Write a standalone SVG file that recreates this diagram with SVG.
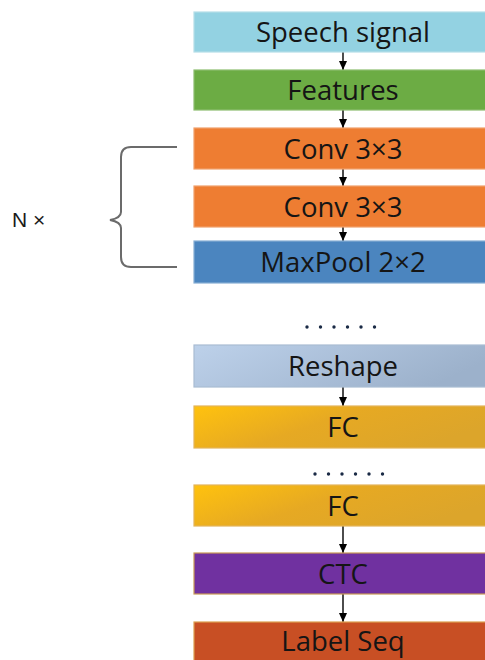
<svg xmlns="http://www.w3.org/2000/svg" width="485" height="660" viewBox="0 0 485 660">
<defs>
<linearGradient id="gReshape" x1="0" y1="0" x2="1" y2="0.3">
<stop offset="0" stop-color="#BDD1EA"/>
<stop offset="1" stop-color="#9CB1CB"/>
</linearGradient>
<linearGradient id="gFC" x1="0" y1="0" x2="1" y2="0.4">
<stop offset="0" stop-color="#FFC20E"/>
<stop offset="0.5" stop-color="#E6A923"/>
<stop offset="1" stop-color="#DCA52B"/>
</linearGradient>
<marker id="ah" markerWidth="9" markerHeight="8" refX="9" refY="4" orient="auto" markerUnits="userSpaceOnUse" viewBox="0 0 9 8">
<path d="M0,0 L9,4 L0,8 Z" fill="#000"/>
</marker>
</defs>
<style>
.box{stroke-width:1.2}
.lbl{font-family:"Open Sans","Liberation Sans",sans-serif;font-size:27.5px;fill:#151515;text-anchor:middle}
.con{stroke:#000;stroke-width:1.4;fill:none}
.dot{fill:#1a2a45}
</style>
<rect width="485" height="660" fill="#fff"/>
<g id="connectors">
<line class="con" x1="343" y1="52" x2="343" y2="70" marker-end="url(#ah)"/>
<line class="con" x1="343" y1="110" x2="343" y2="128" marker-end="url(#ah)"/>
<line class="con" x1="343" y1="169" x2="343" y2="186" marker-end="url(#ah)"/>
<line class="con" x1="343" y1="227" x2="343" y2="241" marker-end="url(#ah)"/>
<line class="con" x1="343" y1="387" x2="343" y2="406" marker-end="url(#ah)"/>
<line class="con" x1="343" y1="526" x2="343" y2="553" marker-end="url(#ah)"/>
<line class="con" x1="343" y1="594" x2="343" y2="622" marker-end="url(#ah)"/>
</g>
<g id="speech">
<rect class="box" x="194" y="12" width="300" height="40" fill="#93D2E2" stroke="#B5DEE8"/>
<text class="lbl" x="343" y="42">Speech signal</text>
</g>
<g id="features">
<rect class="box" x="194" y="70" width="300" height="40" fill="#6CAC44" stroke="#8CBD6E"/>
<text class="lbl" x="343" y="100">Features</text>
</g>
<g id="conv1">
<rect class="box" x="194" y="128" width="300" height="41" fill="#EE7D32" stroke="#F1A06B"/>
<text class="lbl" x="343" y="158.5">Conv 3×3</text>
</g>
<g id="conv2">
<rect class="box" x="194" y="186" width="300" height="41" fill="#EE7D32" stroke="#F1A06B"/>
<text class="lbl" x="343" y="216.5">Conv 3×3</text>
</g>
<g id="maxpool">
<rect class="box" x="194" y="241" width="300" height="42" fill="#4B85BF" stroke="#86AED4"/>
<text class="lbl" x="343" y="272">MaxPool 2×2</text>
</g>
<g id="dots1">
<circle class="dot" cx="307" cy="327" r="1.7"/>
<circle class="dot" cx="320.5" cy="327" r="1.7"/>
<circle class="dot" cx="334" cy="327" r="1.7"/>
<circle class="dot" cx="347.5" cy="327" r="1.7"/>
<circle class="dot" cx="361" cy="327" r="1.7"/>
<circle class="dot" cx="374.5" cy="327" r="1.7"/>
</g>
<g id="reshape">
<rect class="box" x="194" y="345" width="300" height="42" fill="url(#gReshape)" stroke="#A9BCD3"/>
<text class="lbl" x="343" y="376">Reshape</text>
</g>
<g id="fc1">
<rect class="box" x="194" y="406" width="300" height="42" fill="url(#gFC)" stroke="#E3B45A"/>
<text class="lbl" x="343" y="437">FC</text>
</g>
<g id="dots2">
<circle class="dot" cx="315" cy="474" r="1.7"/>
<circle class="dot" cx="328.5" cy="474" r="1.7"/>
<circle class="dot" cx="342" cy="474" r="1.7"/>
<circle class="dot" cx="355.5" cy="474" r="1.7"/>
<circle class="dot" cx="369" cy="474" r="1.7"/>
<circle class="dot" cx="382.5" cy="474" r="1.7"/>
</g>
<g id="fc2">
<rect class="box" x="194" y="485" width="300" height="41" fill="url(#gFC)" stroke="#E3B45A"/>
<text class="lbl" x="343" y="515.5">FC</text>
</g>
<g id="ctc">
<rect class="box" x="194" y="553" width="300" height="41" fill="#7031A0" stroke="#C99A55"/>
<text class="lbl" x="343" y="583.5">CTC</text>
</g>
<g id="labelseq">
<rect class="box" x="194" y="622" width="300" height="44" fill="#C84F24" stroke="#DDA050"/>
<text class="lbl" x="343" y="651">Label Seq</text>
</g>
<g id="brace">
<path d="M177,147 H131 Q121,147 121,157 V212 Q121,218 110,220 Q121,222 121,228 V257 Q121,267 131,267 H177" fill="none" stroke="#6b6b6b" stroke-width="2"/>
<text x="12" y="227" font-family="Liberation Sans, Arial, sans-serif" font-size="21" fill="#1a1a1a">N ×</text>
</g>
</svg>
